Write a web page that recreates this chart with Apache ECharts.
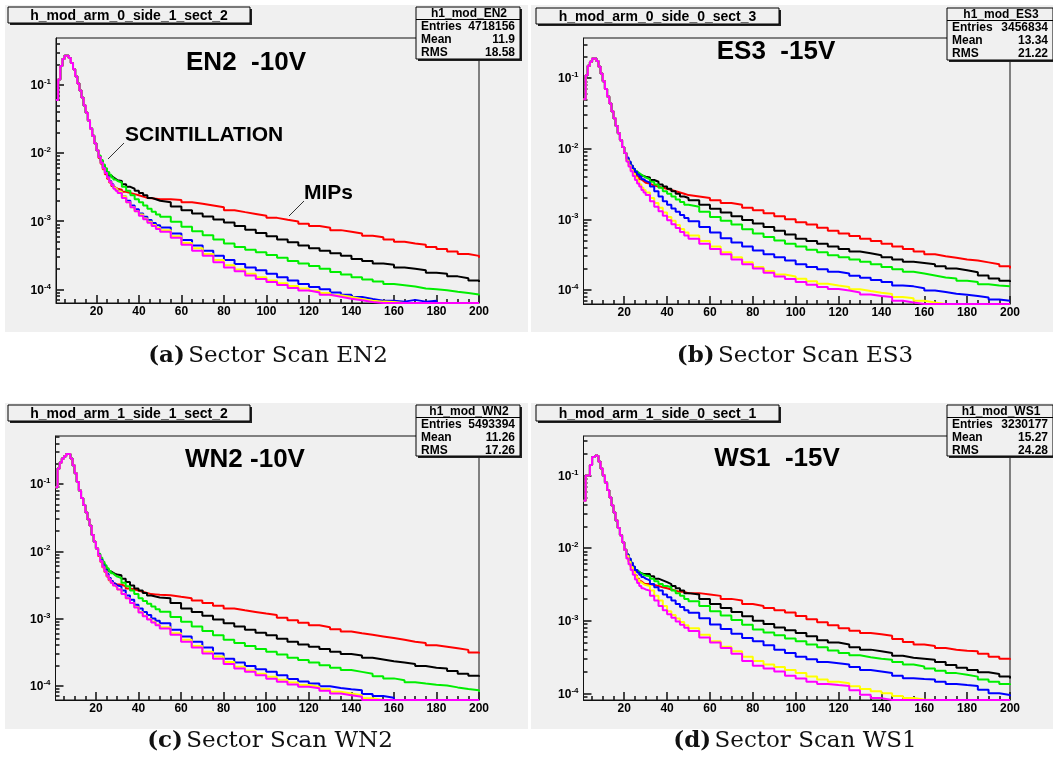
<!DOCTYPE html>
<html>
<head>
<meta charset="utf-8">
<title>Sector Scan</title>
<script src="https://cdn.jsdelivr.net/npm/echarts@6/dist/echarts.min.js"></script>
<style>
	html, body { margin: 0; padding: 0; background: #fff; }
	#main { width: 1053px; height: 769px; }
</style>
</head>
<body>
<div id="main"></div>
<script>
// histogram bins (left edge of each bin)
var binsPeak = [1, 2, 3, 4, 5, 6, 7, 8, 9, 10, 11, 12, 13, 14, 15, 16, 17, 18, 19, 20];
var binsTail = [21, 22, 23, 24, 25, 26, 27, 28, 29, 30,
	32, 34, 36, 38, 40, 42, 44, 46, 48, 50,
	55, 60, 65, 70, 75, 80, 85, 90, 95, 100,
	105, 110, 115, 120, 125, 130, 135, 140, 145, 150,
	155, 160, 165, 170, 175, 180, 185, 190, 195, 200];

var majorX = [20, 40, 60, 80, 100, 120, 140, 160, 180, 200];
var minorX = [5, 10, 15, 25, 30, 35, 45, 50, 55, 65, 70, 75, 85, 90, 95, 105, 110, 115, 125, 130, 135,
	145, 150, 155, 165, 170, 175, 185, 190, 195];
var majorY = [1e-4, 1e-3, 1e-2, 1e-1];
var minorY = [7e-5, 8e-5, 9e-5, 2e-4, 3e-4, 4e-4, 5e-4, 6e-4, 7e-4, 8e-4, 9e-4,
	2e-3, 3e-3, 4e-3, 5e-3, 6e-3, 7e-3, 8e-3, 9e-3, 2e-2, 3e-2, 4e-2, 5e-2, 6e-2, 7e-2, 8e-2, 9e-2,
	2e-1, 3e-1, 4e-1, 5e-1];

var yMin = [6.3e-5, 6.3e-5, 6.1e-5, 8.1e-5];
var yMax = [0.49, 0.37, 0.52, 0.35];

var lineColors = ['#ff0000', '#000000', '#00ee00', '#0000ff', '#ffff00', '#ff00ff'];

var titles = ['EN2  -10V', 'ES3  -15V', 'WN2 -10V', 'WS1  -15V'];
var boxNames = ['h_mod_arm_0_side_1_sect_2', 'h_mod_arm_0_side_0_sect_3', 'h_mod_arm_1_side_1_sect_2', 'h_mod_arm_1_side_0_sect_1'];
var statNames = ['h1_mod_EN2', 'h1_mod_ES3', 'h1_mod_WN2', 'h1_mod_WS1'];
var statEntries = ['4718156', '3456834', '5493394', '3230177'];
var statMean = ['11.9', '13.34', '11.26', '15.27'];
var statRms = ['18.58', '21.22', '17.26', '24.28'];
var captionTags = ['(a)', '(b)', '(c)', '(d)'];
var captionText = ['Sector Scan EN2', 'Sector Scan ES3', 'Sector Scan WN2', 'Sector Scan WS1'];

// ---- EN2 -10V
var peakEN2 = [0.06, 0.12, 0.19, 0.24, 0.27, 0.27, 0.25, 0.21, 0.17, 0.135, 0.105, 0.083, 0.065, 0.05, 0.039, 0.03, 0.023, 0.018, 0.014, 0.011];
var en2Red = [8.5e-3, 7e-3, 5.8e-3, 4.9e-3, 4.2e-3, 3.7e-3, 3.3e-3, 3.1e-3, 3e-3, 2.9e-3,
	2.7e-3, 2.6e-3, 2.5e-3, 2.4e-3, 2.3e-3, 2.2e-3, 2.18e-3, 2.14e-3, 2.1e-3, 2.1e-3,
	2.05e-3, 1.9e-3, 1.8e-3, 1.7e-3, 1.6e-3, 1.45e-3, 1.36e-3, 1.28e-3, 1.2e-3, 1.12e-3,
	1.05e-3, 9.9e-4, 9.2e-4, 8.5e-4, 8e-4, 7.4e-4, 7e-4, 6.6e-4, 6.1e-4, 5.8e-4,
	5.4e-4, 5e-4, 4.7e-4, 4.5e-4, 4.2e-4, 3.9e-4, 3.6e-4, 3.3e-4, 3.1e-4, 2.9e-4];
var en2Black = [9e-3, 7.7e-3, 6.6e-3, 5.8e-3, 5.2e-3, 4.7e-3, 4.4e-3, 4.2e-3, 4e-3, 3.9e-3,
	3.5e-3, 3.2e-3, 3e-3, 2.8e-3, 2.6e-3, 2.4e-3, 2.2e-3, 2.1e-3, 2e-3, 1.9e-3,
	1.65e-3, 1.45e-3, 1.3e-3, 1.17e-3, 1.06e-3, 9.6e-4, 8.5e-4, 7.5e-4, 6.7e-4, 6e-4,
	5.4e-4, 4.9e-4, 4.4e-4, 4e-4, 3.7e-4, 3.4e-4, 3.1e-4, 2.8e-4, 2.6e-4, 2.4e-4,
	2.3e-4, 2.1e-4, 2e-4, 1.9e-4, 1.75e-4, 1.7e-4, 1.55e-4, 1.45e-4, 1.35e-4, 1.28e-4];
var en2Green = [9.2e-3, 7.9e-3, 6.8e-3, 6e-3, 5.3e-3, 4.8e-3, 4.4e-3, 4.1e-3, 3.9e-3, 3.7e-3,
	3.2e-3, 2.8e-3, 2.4e-3, 2.1e-3, 1.9e-3, 1.7e-3, 1.52e-3, 1.38e-3, 1.26e-3, 1.16e-3,
	9.8e-4, 8.3e-4, 7.1e-4, 6.2e-4, 5.4e-4, 4.7e-4, 4.2e-4, 3.8e-4, 3.5e-4, 3.2e-4,
	2.9e-4, 2.6e-4, 2.4e-4, 2.2e-4, 2e-4, 1.8e-4, 1.65e-4, 1.5e-4, 1.4e-4, 1.3e-4,
	1.2e-4, 1.15e-4, 1.1e-4, 1.03e-4, 1e-4, 9.7e-5, 9.2e-5, 8.8e-5, 8.4e-5, 8.2e-5];
var en2Blue = [8.8e-3, 7.3e-3, 6.1e-3, 5.2e-3, 4.5e-3, 3.9e-3, 3.5e-3, 3.1e-3, 2.9e-3, 2.7e-3,
	2.3e-3, 2e-3, 1.7e-3, 1.5e-3, 1.3e-3, 1.16e-3, 1.04e-3, 9.4e-4, 8.7e-4, 8.1e-4,
	6.6e-4, 5.3e-4, 4.4e-4, 3.7e-4, 3.1e-4, 2.7e-4, 2.35e-4, 2.1e-4, 1.9e-4, 1.7e-4,
	1.5e-4, 1.35e-4, 1.2e-4, 1.08e-4, 1e-4, 9e-5, 8.3e-5, 7.7e-5, 7.2e-5, 6.8e-5,
	6.8e-5, 6.6e-5, 7e-5, 6.6e-5, 6.8e-5, 6.3e-5, 6.3e-5, 6.3e-5, 6.3e-5, 6.3e-5];
var en2Yellow = [8.8e-3, 7.2e-3, 6e-3, 5.1e-3, 4.4e-3, 3.8e-3, 3.4e-3, 3.1e-3, 2.9e-3, 2.7e-3,
	2.3e-3, 1.9e-3, 1.6e-3, 1.4e-3, 1.25e-3, 1.1e-3, 9.8e-4, 8.8e-4, 8e-4, 7.4e-4,
	6e-4, 4.8e-4, 4e-4, 3.3e-4, 2.7e-4, 2.25e-4, 1.95e-4, 1.7e-4, 1.5e-4, 1.35e-4,
	1.23e-4, 1.12e-4, 1.03e-4, 9.5e-5, 8.8e-5, 8.2e-5, 7.7e-5, 7.2e-5, 6.8e-5, 6.6e-5,
	6.5e-5, 6.3e-5, 6.3e-5, 6.3e-5, 6.3e-5, 6.3e-5, 6.3e-5, 6.3e-5, 6.3e-5, 6.3e-5];
var en2Magenta = [8.8e-3, 7.2e-3, 6e-3, 5.1e-3, 4.4e-3, 3.8e-3, 3.4e-3, 3e-3, 2.8e-3, 2.6e-3,
	2.2e-3, 1.9e-3, 1.6e-3, 1.4e-3, 1.2e-3, 1.07e-3, 9.5e-4, 8.5e-4, 7.7e-4, 7e-4,
	5.7e-4, 4.5e-4, 3.7e-4, 3.1e-4, 2.5e-4, 2.1e-4, 1.85e-4, 1.6e-4, 1.42e-4, 1.28e-4,
	1.16e-4, 1.05e-4, 9.6e-5, 9e-5, 8.3e-5, 7.8e-5, 7.3e-5, 6.9e-5, 6.5e-5, 6.3e-5,
	6.3e-5, 6.3e-5, 6.3e-5, 6.3e-5, 6.3e-5, 6.3e-5, 6.3e-5, 6.3e-5, 6.3e-5, 6.3e-5];

// ---- ES3 -15V
var peakES3 = [0.05, 0.11, 0.15, 0.17, 0.19, 0.19, 0.175, 0.145, 0.115, 0.09, 0.07, 0.055, 0.044, 0.034, 0.027, 0.021, 0.0165, 0.0132, 0.0106, 0.0087];
var es3Red = [7.2e-3, 6.3e-3, 5.5e-3, 4.9e-3, 4.4e-3, 4e-3, 3.7e-3, 3.5e-3, 3.3e-3, 3.2e-3,
	3e-3, 2.9e-3, 2.8e-3, 2.7e-3, 2.6e-3, 2.5e-3, 2.4e-3, 2.3e-3, 2.2e-3, 2.1e-3,
	2e-3, 1.86e-3, 1.7e-3, 1.6e-3, 1.45e-3, 1.34e-3, 1.22e-3, 1.1e-3, 1e-3, 9.1e-4,
	8.4e-4, 7.6e-4, 6.9e-4, 6.3e-4, 5.8e-4, 5.3e-4, 4.9e-4, 4.5e-4, 4.1e-4, 3.8e-4,
	3.5e-4, 3.2e-4, 3e-4, 2.85e-4, 2.7e-4, 2.6e-4, 2.45e-4, 2.3e-4, 2.15e-4, 2e-4];
var es3Black = [7.3e-3, 6.4e-3, 5.7e-3, 5.1e-3, 4.7e-3, 4.4e-3, 4.2e-3, 4.1e-3, 4e-3, 3.9e-3,
	3.6e-3, 3.4e-3, 3.1e-3, 2.9e-3, 2.7e-3, 2.5e-3, 2.3e-3, 2.1e-3, 2e-3, 1.86e-3,
	1.6e-3, 1.41e-3, 1.25e-3, 1.1e-3, 9.8e-4, 8.7e-4, 7.8e-4, 6.9e-4, 6.1e-4, 5.3e-4,
	4.9e-4, 4.5e-4, 4.1e-4, 3.8e-4, 3.5e-4, 3.3e-4, 3.1e-4, 2.9e-4, 2.7e-4, 2.5e-4,
	2.4e-4, 2.3e-4, 2.15e-4, 2e-4, 1.9e-4, 1.78e-4, 1.6e-4, 1.45e-4, 1.35e-4, 1.29e-4];
var es3Green = [7.3e-3, 6.4e-3, 5.7e-3, 5.2e-3, 4.8e-3, 4.5e-3, 4.3e-3, 4.1e-3, 3.9e-3, 3.7e-3,
	3.4e-3, 3.1e-3, 2.8e-3, 2.5e-3, 2.3e-3, 2.1e-3, 1.9e-3, 1.75e-3, 1.6e-3, 1.5e-3,
	1.28e-3, 1.08e-3, 9.5e-4, 8.4e-4, 7.2e-4, 6.3e-4, 5.6e-4, 5e-4, 4.5e-4, 4.1e-4,
	3.7e-4, 3.4e-4, 3.1e-4, 2.9e-4, 2.7e-4, 2.5e-4, 2.3e-4, 2.1e-4, 1.95e-4, 1.8e-4,
	1.7e-4, 1.6e-4, 1.5e-4, 1.45e-4, 1.35e-4, 1.29e-4, 1.2e-4, 1.15e-4, 1.12e-4, 1.1e-4];
var es3Blue = [7.5e-3, 6.6e-3, 5.8e-3, 5.2e-3, 4.7e-3, 4.3e-3, 4e-3, 3.7e-3, 3.5e-3, 3.3e-3,
	2.9e-3, 2.5e-3, 2.1e-3, 1.8e-3, 1.6e-3, 1.42e-3, 1.28e-3, 1.15e-3, 1.04e-3, 9.4e-4,
	7.8e-4, 6.5e-4, 5.4e-4, 4.7e-4, 4.1e-4, 3.6e-4, 3.2e-4, 2.9e-4, 2.6e-4, 2.3e-4,
	2.1e-4, 1.95e-4, 1.8e-4, 1.7e-4, 1.58e-4, 1.48e-4, 1.38e-4, 1.29e-4, 1.15e-4, 1.12e-4,
	1.05e-4, 9.8e-5, 9.3e-5, 8.8e-5, 8.5e-5, 8.2e-5, 7.8e-5, 7.3e-5, 7e-5, 7e-5];
var es3Yellow = [6.8e-3, 5.8e-3, 5e-3, 4.4e-3, 3.9e-3, 3.5e-3, 3.1e-3, 2.8e-3, 2.6e-3, 2.4e-3,
	2e-3, 1.7e-3, 1.45e-3, 1.25e-3, 1.08e-3, 9.5e-4, 8.3e-4, 7.3e-4, 6.5e-4, 5.9e-4,
	4.9e-4, 4.1e-4, 3.4e-4, 2.9e-4, 2.45e-4, 2.1e-4, 1.85e-4, 1.65e-4, 1.55e-4, 1.44e-4,
	1.32e-4, 1.22e-4, 1.15e-4, 1.1e-4, 1.02e-4, 9.6e-5, 9.1e-5, 8.7e-5, 7.9e-5, 7.6e-5,
	7e-5, 6.6e-5, 6.3e-5, 6.3e-5, 6.3e-5, 6.3e-5, 6.3e-5, 6.3e-5, 6.3e-5, 6.3e-5];
var es3Magenta = [6.6e-3, 5.6e-3, 4.8e-3, 4.1e-3, 3.6e-3, 3.2e-3, 2.9e-3, 2.6e-3, 2.4e-3, 2.2e-3,
	1.8e-3, 1.5e-3, 1.3e-3, 1.12e-3, 9.7e-4, 8.5e-4, 7.5e-4, 6.6e-4, 5.9e-4, 5.3e-4,
	4.5e-4, 3.8e-4, 3.2e-4, 2.7e-4, 2.3e-4, 2e-4, 1.75e-4, 1.55e-4, 1.42e-4, 1.29e-4,
	1.18e-4, 1.1e-4, 1.03e-4, 9.8e-5, 9.2e-5, 8.6e-5, 8.2e-5, 7.9e-5, 7e-5, 6.6e-5,
	6.3e-5, 6.3e-5, 6.3e-5, 6.3e-5, 6.3e-5, 6.3e-5, 6.3e-5, 6.3e-5, 6.3e-5, 6.3e-5];

// ---- WN2 -10V
var peakWN2 = [0.09, 0.17, 0.21, 0.24, 0.26, 0.28, 0.28, 0.24, 0.19, 0.145, 0.107, 0.08, 0.062, 0.049, 0.038, 0.03, 0.024, 0.0175, 0.0138, 0.011];
var wn2Red = [8.5e-3, 7e-3, 5.8e-3, 4.9e-3, 4.2e-3, 3.7e-3, 3.4e-3, 3.3e-3, 3.2e-3, 3.2e-3,
	3e-3, 2.8e-3, 2.7e-3, 2.6e-3, 2.5e-3, 2.4e-3, 2.3e-3, 2.28e-3, 2.25e-3, 2.22e-3,
	2.1e-3, 2e-3, 1.85e-3, 1.7e-3, 1.55e-3, 1.41e-3, 1.32e-3, 1.25e-3, 1.18e-3, 1.12e-3,
	1.02e-3, 9.4e-4, 8.6e-4, 7.9e-4, 7.4e-4, 6.9e-4, 6.4e-4, 6e-4, 5.7e-4, 5.4e-4,
	5.1e-4, 4.8e-4, 4.5e-4, 4.3e-4, 4e-4, 3.8e-4, 3.6e-4, 3.4e-4, 3.1e-4, 3e-4];
var wn2Black = [9e-3, 7.7e-3, 6.7e-3, 5.9e-3, 5.4e-3, 5e-3, 4.8e-3, 4.6e-3, 4.5e-3, 4.4e-3,
	3.9e-3, 3.5e-3, 3.1e-3, 2.8e-3, 2.6e-3, 2.4e-3, 2.2e-3, 2.12e-3, 2.05e-3, 2e-3,
	1.7e-3, 1.41e-3, 1.25e-3, 1.1e-3, 9.6e-4, 8.5e-4, 7.6e-4, 6.8e-4, 6.1e-4, 5.6e-4,
	5e-4, 4.5e-4, 4.1e-4, 3.8e-4, 3.5e-4, 3.2e-4, 2.95e-4, 2.8e-4, 2.6e-4, 2.45e-4,
	2.3e-4, 2.2e-4, 2.1e-4, 1.95e-4, 1.85e-4, 1.8e-4, 1.65e-4, 1.5e-4, 1.4e-4, 1.35e-4];
var wn2Green = [9.2e-3, 8e-3, 7e-3, 6.2e-3, 5.6e-3, 5.1e-3, 4.7e-3, 4.4e-3, 4.2e-3, 4e-3,
	3.4e-3, 3e-3, 2.6e-3, 2.3e-3, 2e-3, 1.82e-3, 1.65e-3, 1.5e-3, 1.37e-3, 1.26e-3,
	1.05e-3, 8.9e-4, 7.6e-4, 6.5e-4, 5.6e-4, 4.8e-4, 4.3e-4, 3.9e-4, 3.5e-4, 3.2e-4,
	2.9e-4, 2.6e-4, 2.4e-4, 2.2e-4, 2e-4, 1.85e-4, 1.7e-4, 1.6e-4, 1.5e-4, 1.38e-4,
	1.28e-4, 1.2e-4, 1.12e-4, 1.07e-4, 1.03e-4, 1e-4, 9.4e-5, 8.9e-5, 8.5e-5, 8.1e-5];
var wn2Blue = [8.9e-3, 7.4e-3, 6.2e-3, 5.3e-3, 4.6e-3, 4e-3, 3.6e-3, 3.3e-3, 3.1e-3, 3e-3,
	2.6e-3, 2.2e-3, 1.9e-3, 1.6e-3, 1.41e-3, 1.25e-3, 1.12e-3, 1e-3, 9.2e-4, 8.5e-4,
	6.8e-4, 5.4e-4, 4.5e-4, 3.7e-4, 3e-4, 2.5e-4, 2.2e-4, 1.95e-4, 1.75e-4, 1.6e-4,
	1.42e-4, 1.25e-4, 1.15e-4, 1.07e-4, 9.8e-5, 9.2e-5, 8.8e-5, 8.5e-5, 7.5e-5, 7e-5,
	6.6e-5, 6.1e-5, 6.1e-5, 6.1e-5, 6.1e-5, 6.1e-5, 6.1e-5, 6.1e-5, 6.1e-5, 6.1e-5];
var wn2Yellow = [8.7e-3, 7.1e-3, 5.9e-3, 5e-3, 4.3e-3, 3.8e-3, 3.4e-3, 3.1e-3, 2.9e-3, 2.7e-3,
	2.3e-3, 2e-3, 1.7e-3, 1.48e-3, 1.25e-3, 1.1e-3, 9.8e-4, 8.9e-4, 8.1e-4, 7.4e-4,
	6e-4, 4.8e-4, 3.9e-4, 3.2e-4, 2.7e-4, 2.25e-4, 1.9e-4, 1.68e-4, 1.5e-4, 1.35e-4,
	1.22e-4, 1.11e-4, 1.02e-4, 9.6e-5, 8.9e-5, 8.1e-5, 7.6e-5, 7.2e-5, 6.5e-5, 6.1e-5,
	6.1e-5, 6.1e-5, 6.1e-5, 6.1e-5, 6.1e-5, 6.1e-5, 6.1e-5, 6.1e-5, 6.1e-5, 6.1e-5];
var wn2Magenta = [8.7e-3, 7.1e-3, 5.9e-3, 5e-3, 4.3e-3, 3.8e-3, 3.4e-3, 3.1e-3, 2.9e-3, 2.7e-3,
	2.3e-3, 2e-3, 1.7e-3, 1.45e-3, 1.22e-3, 1.08e-3, 9.6e-4, 8.7e-4, 7.9e-4, 7.1e-4,
	5.7e-4, 4.5e-4, 3.7e-4, 3e-4, 2.5e-4, 2.1e-4, 1.8e-4, 1.6e-4, 1.42e-4, 1.26e-4,
	1.14e-4, 1.04e-4, 9.6e-5, 9.1e-5, 8.4e-5, 7.6e-5, 7.2e-5, 6.8e-5, 6.1e-5, 6.1e-5,
	6.1e-5, 6.1e-5, 6.1e-5, 6.1e-5, 6.1e-5, 6.1e-5, 6.1e-5, 6.1e-5, 6.1e-5, 6.1e-5];

// ---- WS1 -15V
var peakWS1 = [0.045, 0.1, 0.1, 0.14, 0.18, 0.19, 0.185, 0.155, 0.125, 0.1, 0.08, 0.063, 0.05, 0.039, 0.031, 0.024, 0.019, 0.015, 0.012, 0.0095];
var ws1Red = [7.8e-3, 6.6e-3, 5.6e-3, 4.8e-3, 4.2e-3, 3.8e-3, 3.5e-3, 3.3e-3, 3.2e-3, 3.2e-3,
	3.1e-3, 3e-3, 2.9e-3, 2.8e-3, 2.7e-3, 2.6e-3, 2.5e-3, 2.5e-3, 2.4e-3, 2.4e-3,
	2.3e-3, 2.2e-3, 2e-3, 1.9e-3, 1.7e-3, 1.6e-3, 1.5e-3, 1.4e-3, 1.3e-3, 1.16e-3,
	1.05e-3, 9.5e-4, 8.7e-4, 7.9e-4, 7.3e-4, 6.8e-4, 6.5e-4, 6.2e-4, 5.6e-4, 5.1e-4,
	4.7e-4, 4.5e-4, 4.2e-4, 4e-4, 3.85e-4, 3.8e-4, 3.5e-4, 3.2e-4, 3e-4, 2.9e-4];
var ws1Black = [8.2e-3, 7.1e-3, 6.2e-3, 5.5e-3, 5e-3, 4.7e-3, 4.5e-3, 4.4e-3, 4.4e-3, 4.4e-3,
	4.1e-3, 3.8e-3, 3.6e-3, 3.4e-3, 3.2e-3, 3e-3, 2.8e-3, 2.6e-3, 2.4e-3, 2.3e-3,
	2e-3, 1.7e-3, 1.5e-3, 1.32e-3, 1.15e-3, 1e-3, 9e-4, 8.1e-4, 7.4e-4, 6.8e-4,
	6.1e-4, 5.4e-4, 5e-4, 4.7e-4, 4.3e-4, 4e-4, 3.8e-4, 3.6e-4, 3.3e-4, 3.1e-4,
	3e-4, 2.9e-4, 2.7e-4, 2.45e-4, 2.25e-4, 2.1e-4, 1.95e-4, 1.85e-4, 1.7e-4, 1.6e-4];
var ws1Green = [8.2e-3, 7.1e-3, 6.2e-3, 5.5e-3, 5e-3, 4.7e-3, 4.5e-3, 4.3e-3, 4.2e-3, 4.1e-3,
	3.8e-3, 3.5e-3, 3.2e-3, 3e-3, 2.9e-3, 2.6e-3, 2.4e-3, 2.2e-3, 2e-3, 1.86e-3,
	1.6e-3, 1.35e-3, 1.18e-3, 1.02e-3, 8.8e-4, 7.6e-4, 6.9e-4, 6.3e-4, 5.7e-4, 5.2e-4,
	4.7e-4, 4.3e-4, 3.9e-4, 3.6e-4, 3.35e-4, 3.15e-4, 3e-4, 2.9e-4, 2.7e-4, 2.5e-4,
	2.35e-4, 2.2e-4, 2.05e-4, 1.9e-4, 1.8e-4, 1.7e-4, 1.55e-4, 1.45e-4, 1.35e-4, 1.3e-4];
var ws1Blue = [8.2e-3, 7.2e-3, 6.3e-3, 5.6e-3, 5e-3, 4.6e-3, 4.3e-3, 4e-3, 3.8e-3, 3.6e-3,
	3.2e-3, 2.9e-3, 2.6e-3, 2.3e-3, 2.1e-3, 1.9e-3, 1.7e-3, 1.55e-3, 1.4e-3, 1.29e-3,
	1.08e-3, 8.9e-4, 7.7e-4, 6.6e-4, 5.8e-4, 5.2e-4, 4.6e-4, 4e-4, 3.6e-4, 3.2e-4,
	2.95e-4, 2.7e-4, 2.6e-4, 2.5e-4, 2.3e-4, 2.1e-4, 2e-4, 1.9e-4, 1.75e-4, 1.62e-4,
	1.58e-4, 1.55e-4, 1.45e-4, 1.35e-4, 1.3e-4, 1.26e-4, 1.12e-4, 1e-4, 9.5e-5, 9.1e-5];
var ws1Yellow = [7.8e-3, 6.5e-3, 5.5e-3, 4.7e-3, 4.1e-3, 3.7e-3, 3.4e-3, 3.2e-3, 3.1e-3, 3e-3,
	2.6e-3, 2.2e-3, 1.9e-3, 1.6e-3, 1.35e-3, 1.2e-3, 1.07e-3, 9.6e-4, 8.7e-4, 7.9e-4,
	6.4e-4, 5.2e-4, 4.4e-4, 3.8e-4, 3.2e-4, 2.8e-4, 2.5e-4, 2.3e-4, 2.1e-4, 1.9e-4,
	1.7e-4, 1.55e-4, 1.45e-4, 1.38e-4, 1.25e-4, 1.15e-4, 1.07e-4, 1e-4, 9.2e-5, 8.6e-5,
	8.2e-5, 8.1e-5, 8.1e-5, 8.1e-5, 8.1e-5, 8.1e-5, 8.1e-5, 8.1e-5, 8.1e-5, 8.1e-5];
var ws1Magenta = [7.2e-3, 6e-3, 5e-3, 4.3e-3, 3.7e-3, 3.3e-3, 3e-3, 2.8e-3, 2.7e-3, 2.6e-3,
	2.2e-3, 1.9e-3, 1.6e-3, 1.4e-3, 1.23e-3, 1.1e-3, 9.8e-4, 8.8e-4, 8e-4, 7.2e-4,
	5.9e-4, 5e-4, 4.2e-4, 3.5e-4, 2.8e-4, 2.4e-4, 2.2e-4, 2e-4, 1.75e-4, 1.6e-4,
	1.45e-4, 1.35e-4, 1.3e-4, 1.26e-4, 1.1e-4, 9.6e-5, 8.6e-5, 8.1e-5, 8.1e-5, 8.1e-5,
	8.1e-5, 8.1e-5, 8.1e-5, 8.1e-5, 8.1e-5, 8.1e-5, 8.1e-5, 8.1e-5, 8.1e-5, 8.1e-5];

var peaks = [peakEN2, peakES3, peakWN2, peakWS1];
var tails = [
	[en2Red, en2Black, en2Green, en2Blue, en2Yellow, en2Magenta],
	[es3Red, es3Black, es3Green, es3Blue, es3Yellow, es3Magenta],
	[wn2Red, wn2Black, wn2Green, wn2Blue, wn2Yellow, wn2Magenta],
	[ws1Red, ws1Black, ws1Green, ws1Blue, ws1Yellow, ws1Magenta]
];

// pixel layout of the four pads
var layout = [
	{ bg: [5, 5, 523, 327], grid: [56, 38, 423, 265], tbox: [8, 7, 242, 16], sbox: [416, 7, 104, 52], title: [246, 63], cap: [268, 356] },
	{ bg: [531, 5, 522, 327], grid: [583.5, 38, 426.5, 266], tbox: [536, 8, 243, 16], sbox: [947, 8, 106, 52], title: [776, 52], cap: [795, 356] },
	{ bg: [5, 403, 523, 326], grid: [55.5, 436, 423.5, 264], tbox: [8, 405, 242, 16], sbox: [416, 405, 104, 51], title: [245, 460], cap: [270, 741] },
	{ bg: [531, 403, 522, 326], grid: [583.5, 436, 426.5, 264], tbox: [536, 405, 243, 16], sbox: [947, 405, 106, 51], title: [777, 459], cap: [795, 741] }
];

var ROOT_FONT = '"Liberation Sans", Arial, sans-serif';
var TICK = { color: '#1a1a1a', width: 1.6 };

var main = {
	init: function() {
		var myChart = echarts.init(document.getElementById('main'));
		var option = {
			animation: false,
			backgroundColor: '#ffffff',
			grid: [],
			xAxis: [],
			yAxis: [],
			series: [],
			graphic: { elements: [] }
		};
		for (var p = 0; p < 4; p++) {
			main.pad(option, p);
		}
		main.notes(option.graphic.elements);
		myChart.setOption(option);
	},
	hist: function(peak, tail) {
		var xs = binsPeak.concat(binsTail);
		var ys = peak.concat(tail);
		var out = [];
		for (var i = 0; i < xs.length; i++) {
			out.push([xs[i], ys[i]]);
		}
		return out;
	},
	pad: function(option, p) {
		var L = layout[p];
		option.grid.push({
			left: L.grid[0],
			top: L.grid[1],
			width: L.grid[2],
			height: L.grid[3],
			show: true,
			borderColor: '#111',
			borderWidth: 1,
			backgroundColor: 'transparent'
		});
		// x axis with major ticks and labels
		option.xAxis.push({
			type: 'value',
			gridIndex: p,
			position: 'bottom',
			min: 1,
			max: 200,
			axisLine: { show: true, onZero: false, lineStyle: { color: '#111', width: 1 } },
			axisTick: { show: true, inside: true, length: 8, customValues: majorX, lineStyle: TICK },
			axisLabel: {
				show: true,
				customValues: majorX,
				color: '#000',
				fontFamily: ROOT_FONT,
				fontWeight: 'bold',
				fontSize: 12,
				margin: 3
			},
			splitLine: { show: false }
		});
		// second x axis only for the short ticks
		option.xAxis.push({
			type: 'value',
			gridIndex: p,
			position: 'bottom',
			offset: 0,
			min: 1,
			max: 200,
			axisLine: { show: false, onZero: false },
			axisTick: { show: true, inside: true, length: 4, customValues: minorX, lineStyle: TICK },
			axisLabel: { show: false },
			splitLine: { show: false }
		});
		option.yAxis.push({
			type: 'log',
			logBase: 10,
			gridIndex: p,
			position: 'left',
			min: yMin[p],
			max: yMax[p],
			axisLine: { show: true, onZero: false, lineStyle: { color: '#111', width: 1 } },
			axisTick: { show: true, inside: true, length: 8, customValues: majorY, lineStyle: TICK },
			axisLabel: {
				show: true,
				customValues: majorY,
				margin: 5,
				formatter: function(v) {
					var e = Math.round(Math.log(v) / Math.LN10);
					return '{b|10}{e|' + e + '}';
				},
				rich: {
					b: { fontFamily: ROOT_FONT, fontWeight: 'bold', fontSize: 12, color: '#000', lineHeight: 14, verticalAlign: 'bottom' },
					e: { fontFamily: ROOT_FONT, fontWeight: 'bold', fontSize: 8, color: '#000', lineHeight: 8, verticalAlign: 'top' }
				}
			},
			splitLine: { show: false }
		});
		// second y axis for the 2..9 log ticks
		option.yAxis.push({
			type: 'log',
			logBase: 10,
			gridIndex: p,
			position: 'left',
			offset: 0,
			min: yMin[p],
			max: yMax[p],
			axisLine: { show: false, onZero: false },
			axisTick: { show: true, inside: true, length: 4, customValues: minorY, lineStyle: TICK },
			axisLabel: { show: false },
			splitLine: { show: false }
		});
		for (var s = 0; s < 6; s++) {
			option.series.push({
				type: 'line',
				xAxisIndex: p * 2,
				yAxisIndex: p * 2,
				step: 'end',
				showSymbol: false,
				symbol: 'none',
				silent: true,
				clip: true,
				z: 3 + s,
				lineStyle: { color: lineColors[s], width: 2 },
				itemStyle: { color: lineColors[s] },
				data: main.hist(peaks[p], tails[p][s])
			});
		}

		var g = option.graphic.elements;
		// pad background
		g.push({
			type: 'rect', z: -10,
			shape: { x: L.bg[0], y: L.bg[1], width: L.bg[2], height: L.bg[3] },
			style: { fill: '#f0f0f0' }
		});
		// histogram title box
		main.pave(g, L.tbox);
		g.push({
			type: 'text', z: 60,
			x: L.tbox[0] + L.tbox[2] / 2,
			y: L.tbox[1] + L.tbox[3] / 2 + 1,
			style: {
				text: boxNames[p],
				textAlign: 'center',
				textVerticalAlign: 'middle',
				font: 'bold 14px ' + ROOT_FONT,
				fill: '#000'
			}
		});
		// stats box
		var b = L.sbox;
		main.pave(g, b);
		g.push({
			type: 'line', z: 60,
			shape: { x1: b[0], y1: b[1] + 12.5, x2: b[0] + b[2], y2: b[1] + 12.5 },
			style: { stroke: '#000', lineWidth: 1 }
		});
		g.push({
			type: 'text', z: 60,
			x: b[0] + b[2] / 2 + 1, y: b[1] + 6.5,
			style: { text: statNames[p], textAlign: 'center', textVerticalAlign: 'middle', font: 'bold 12px ' + ROOT_FONT, fill: '#000' }
		});
		var rowsL = ['Entries', 'Mean', 'RMS'];
		var rowsR = [statEntries[p], statMean[p], statRms[p]];
		for (var r = 0; r < 3; r++) {
			g.push({
				type: 'text', z: 60,
				x: b[0] + 5, y: b[1] + 19.5 + r * 13.2,
				style: { text: rowsL[r], textAlign: 'left', textVerticalAlign: 'middle', font: 'bold 12px ' + ROOT_FONT, fill: '#000' }
			});
			g.push({
				type: 'text', z: 60,
				x: b[0] + b[2] - 5, y: b[1] + 19.5 + r * 13.2,
				style: { text: rowsR[r], textAlign: 'right', textVerticalAlign: 'middle', font: 'bold 12px ' + ROOT_FONT, fill: '#000' }
			});
		}
		// big title inside the frame
		g.push({
			type: 'text', z: 60,
			x: L.title[0], y: L.title[1],
			style: { text: titles[p], textAlign: 'center', textVerticalAlign: 'middle', font: 'bold 26px ' + ROOT_FONT, fill: '#000' }
		});
		// caption under the pad
		g.push({
			type: 'text', z: 60,
			x: L.cap[0], y: L.cap[1],
			style: {
				text: '{t|' + captionTags[p] + '} {n|' + captionText[p] + '}',
				textAlign: 'center',
				textVerticalAlign: 'middle',
				rich: {
					t: { fontFamily: '"DejaVu Serif", serif', fontWeight: 'bold', fontSize: 23, fill: '#111' },
					n: { fontFamily: '"DejaVu Serif", serif', fontSize: 23, fill: '#111' }
				}
			}
		});
	},
	pave: function(g, b) {
		// ROOT style pave with drop shadow
		g.push({
			type: 'rect', z: 50,
			shape: { x: b[0] + 2, y: b[1] + 2, width: b[2], height: b[3] },
			style: { fill: '#222' }
		});
		g.push({
			type: 'rect', z: 51,
			shape: { x: b[0], y: b[1], width: b[2], height: b[3] },
			style: { fill: '#f0f0f0', stroke: '#000', lineWidth: 1 }
		});
	},
	notes: function(g) {
		// annotations of pad (a)
		g.push({
			type: 'text', z: 60, x: 125, y: 135,
			style: { text: 'SCINTILLATION', textAlign: 'left', textVerticalAlign: 'middle', font: 'bold 21px ' + ROOT_FONT, fill: '#000' }
		});
		g.push({
			type: 'line', z: 60,
			shape: { x1: 108, y1: 159, x2: 124, y2: 143 },
			style: { stroke: '#333', lineWidth: 1 }
		});
		g.push({
			type: 'text', z: 60, x: 304, y: 193,
			style: { text: 'MIPs', textAlign: 'left', textVerticalAlign: 'middle', font: 'bold 21px ' + ROOT_FONT, fill: '#000' }
		});
		g.push({
			type: 'line', z: 60,
			shape: { x1: 289, y1: 216, x2: 304, y2: 201 },
			style: { stroke: '#333', lineWidth: 1 }
		});
	}
};

window.onload = main.init;
</script>
</body>
</html>
